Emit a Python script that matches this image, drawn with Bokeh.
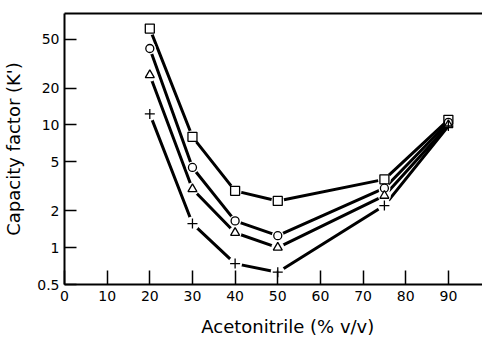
from bokeh.plotting import figure
from bokeh.models import (FixedTicker, CustomJSTickFormatter, LinearAxis, Range1d)
from bokeh.embed import file_html
from bokeh.resources import INLINE

# ---- data ----
acetonitrile = [20, 30, 40, 50, 75, 90]
k_square = [61, 8.0, 2.9, 2.4, 3.6, 11]
k_circle = [42, 4.5, 1.65, 1.25, 3.05, 10.5]
k_triangle = [25.5, 3.0, 1.32, 1.0, 2.65, 10.0]
k_plus = [12.3, 1.57, 0.74, 0.63, 2.2, 9.8]
x_ticks = [0, 10, 20, 30, 40, 50, 60, 70, 80, 90]
y_ticks = [0.5, 1, 2, 5, 10, 20, 50]
x_label = "Acetonitrile (% v/v)"
y_label = "Capacity factor (K')"

FONT = "DejaVu Sans"

p = figure(width=482, height=339, output_backend="svg", toolbar_location=None,
           y_axis_type="log", x_range=Range1d(0, 98), y_range=Range1d(0.5, 81),
           min_border_left=64, min_border_right=0, min_border_top=13, min_border_bottom=55)
p.grid.visible = False
p.outline_line_color = None
p.background_fill_color = "white"
p.border_fill_color = "white"

# axes
p.xaxis.ticker = FixedTicker(ticks=x_ticks)
p.yaxis.ticker = FixedTicker(ticks=y_ticks)
p.yaxis.formatter = CustomJSTickFormatter(code="return String(tick)")
for ax in (p.xaxis[0], p.yaxis[0]):
    ax.axis_line_width = 2
    ax.axis_line_color = "black"
    ax.major_tick_line_width = 1.5
    ax.major_tick_line_color = "black"
    ax.major_tick_out = 0
    ax.minor_tick_in = 0
    ax.minor_tick_out = 0
    ax.major_label_text_font = FONT
    ax.major_label_text_font_size = "14px"
    ax.major_label_text_color = "black"
    ax.axis_label_text_font = FONT
    ax.axis_label_text_font_style = "normal"
    ax.axis_label_text_font_size = "18px"
    ax.axis_label_text_color = "black"
p.xaxis.major_tick_in = 14
p.yaxis.major_tick_in = 12
p.xaxis.major_label_standoff = 6
p.yaxis.major_label_standoff = 5
p.yaxis.axis_label = y_label
p.yaxis.axis_label_standoff = 10
# label sits right of centre in the reference: pad with no-break spaces
p.xaxis.axis_label = "\u00a0" * 5 + x_label
p.xaxis.axis_label_standoff = 12

# top border line
top = LinearAxis(axis_line_width=2, axis_line_color="black", major_tick_in=0, major_tick_out=0,
                 minor_tick_in=0, minor_tick_out=0, major_label_text_font_size="0px",
                 major_label_standoff=0)
top.ticker = FixedTicker(ticks=[])
p.add_layout(top, "above")

series = [
    (k_square, "square", 9),
    (k_circle, "circle", 8),
    (k_triangle, "triangle", 9),
    (k_plus, "cross", 10),
]
for ys, _, _ in series:
    p.line(acetonitrile, ys, line_width=3, line_color="black")
for ys, m, s in series:
    p.scatter(acetonitrile[:-1], ys[:-1], marker="circle", size=s + 4,
              fill_color="white", line_color=None)
for ys, m, s in series:
    p.scatter(acetonitrile, ys, marker=m, size=s, fill_color="white",
              line_color="black", line_width=1.3)

open("out.html", "w").write(file_html(p, INLINE))
